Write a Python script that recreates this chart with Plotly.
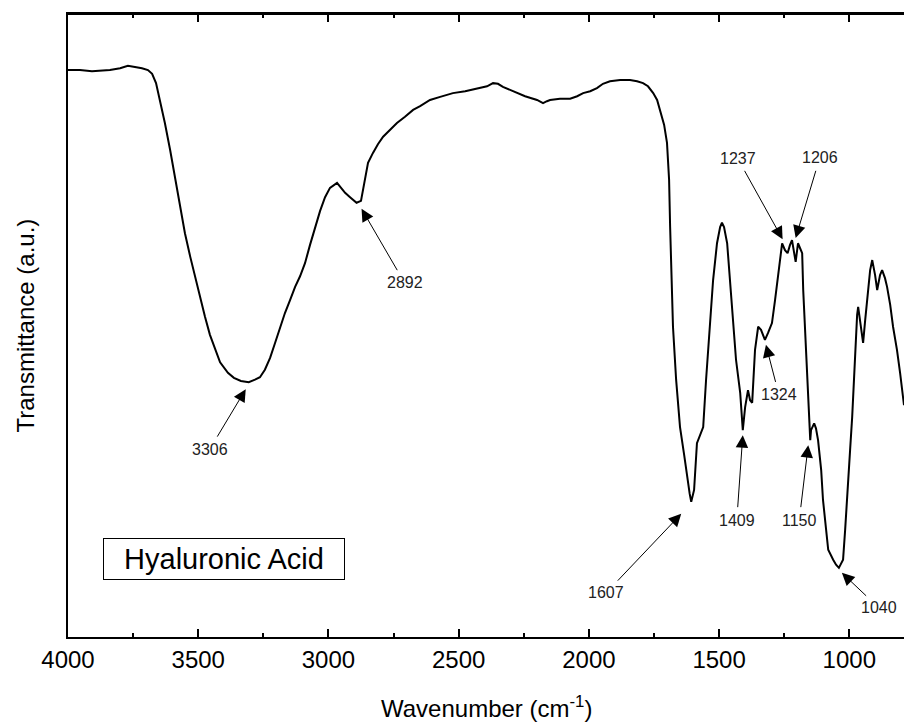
import numpy as np
import plotly.graph_objects as go

# FTIR spectrum of hyaluronic acid: wavenumber (cm-1) and transmittance (a.u.)
wavenumber = [
    4000, 3954, 3908, 3873, 3839, 3800, 3770, 3743, 3716, 3693, 3677, 3662, 3647, 3628,
    3608, 3589, 3570, 3551, 3531, 3512, 3493, 3474, 3455, 3435, 3416, 3386, 3363, 3336,
    3306, 3282, 3263, 3244, 3224, 3205, 3186, 3167, 3147, 3128, 3109, 3090, 3071, 3051,
    3032, 3013, 2994, 2967, 2952, 2936, 2917, 2902, 2892, 2875, 2867, 2859, 2848, 2829,
    2810, 2790, 2763, 2737, 2706, 2675, 2648, 2610, 2571, 2522, 2475, 2418, 2391, 2368,
    2349, 2330, 2303, 2276, 2245, 2199, 2176, 2161, 2149, 2111, 2072, 2045, 2022, 1995,
    1969, 1946, 1919, 1880, 1842, 1815, 1792, 1773, 1753, 1738, 1727, 1711, 1700, 1692,
    1688, 1681, 1677, 1665, 1650, 1634, 1623, 1613, 1607, 1596, 1585, 1573, 1561, 1550,
    1535, 1523, 1508, 1496, 1489, 1481, 1469, 1458, 1446, 1435, 1419, 1413, 1409, 1400,
    1389, 1381, 1373, 1362, 1350, 1339, 1324, 1312, 1297, 1285, 1277, 1266, 1258, 1247,
    1237, 1228, 1220, 1206, 1197, 1189, 1181, 1177, 1170, 1162, 1158, 1150, 1147, 1135,
    1128, 1120, 1108, 1101, 1089, 1081, 1062, 1051, 1040, 1024, 1016, 1008, 997, 989,
    978, 970, 966, 959, 951, 947, 939, 932, 920, 912, 901, 893, 882, 874,
    863, 855, 843, 832, 817, 805, 793, 790,
]
transmittance = [
    91.0, 91.0, 90.8, 90.9, 91.0, 91.3, 91.7, 91.5, 91.3, 91.0, 90.4, 88.9, 86.2, 82.5,
    78.2, 73.8, 69.3, 64.8, 61.1, 57.8, 54.4, 51.4, 48.5, 46.1, 44.1, 42.4, 41.6, 41.1,
    40.9, 41.3, 41.7, 42.9, 44.8, 47.2, 49.6, 52.0, 54.1, 56.2, 57.9, 60.0, 62.9, 65.8,
    68.4, 70.6, 72.1, 72.9, 72.1, 71.3, 70.6, 70.0, 69.7, 70.0, 71.7, 73.4, 76.1, 77.7,
    79.1, 80.3, 81.5, 82.5, 83.5, 84.6, 85.2, 86.2, 86.7, 87.3, 87.6, 88.1, 88.4, 88.9,
    88.8, 88.3, 87.8, 87.3, 86.8, 86.2, 85.7, 86.0, 86.2, 86.4, 86.4, 86.8, 87.3, 87.6,
    88.1, 88.8, 89.2, 89.4, 89.4, 89.2, 88.9, 88.4, 87.3, 86.2, 84.6, 82.2, 79.3, 73.4,
    65.8, 57.3, 49.8, 41.3, 33.7, 29.2, 25.7, 23.0, 21.7, 23.6, 31.1, 32.4, 33.7, 41.3,
    49.8, 57.3, 63.2, 65.8, 66.5, 65.8, 63.2, 57.3, 49.8, 44.5, 39.2, 34.8, 33.2, 36.9,
    39.6, 38.0, 37.6, 46.1, 49.8, 49.3, 47.7, 48.8, 50.4, 54.1, 56.8, 60.5, 63.2, 62.1,
    61.6, 62.9, 63.7, 60.2, 63.2, 62.4, 61.6, 55.7, 48.8, 42.9, 38.0, 31.6, 33.2, 34.3,
    33.5, 31.6, 26.8, 22.0, 17.2, 14.0, 12.4, 11.6, 11.1, 12.4, 17.2, 22.0, 30.0, 35.3,
    46.1, 51.7, 53.0, 50.9, 48.8, 47.2, 50.9, 54.1, 58.9, 60.5, 58.1, 55.7, 58.1, 58.9,
    57.6, 56.2, 53.3, 49.8, 46.1, 42.4, 38.0, 37.2,
]

# Assigned bands
band_labels = [3306, 2892, 1607, 1409, 1324, 1237, 1206, 1150, 1040]

# Label placement (pixels): arrow head shift from the curve, label offset from the head
label_style = {
    3306: dict(head=(-3, -7), label=(-36, 60)),
    2892: dict(head=(5, -6), label=(43, 74)),
    1607: dict(head=(-10, -12), label=(-75, 79)),
    1409: dict(head=(0, -5), label=(-6, 85)),
    1324: dict(head=(1, -5), label=(13, 50)),
    1237: dict(head=(-5, 14), label=(-45, -81)),
    1206: dict(head=(0, 24), label=(24, -80)),
    1150: dict(head=(-2, -5), label=(-9, 75)),
    1040: dict(head=(3, -5), label=(37, 35)),
}

FONT = "Arial, Liberation Sans, sans-serif"
X_RANGE = [4000, 790]

fig = go.Figure()
fig.add_trace(go.Scatter(
    x=wavenumber, y=transmittance, mode="lines",
    line=dict(color="black", width=2), showlegend=False, hoverinfo="skip",
))
# same spectrum on the minor-tick axis (invisible) so that axis gets drawn
fig.add_trace(go.Scatter(
    x=wavenumber, y=transmittance, mode="lines", xaxis="x2",
    line=dict(color="rgba(0,0,0,0)", width=0), showlegend=False, hoverinfo="skip",
))

w_sorted = np.array(wavenumber[::-1], dtype=float)
t_sorted = np.array(transmittance[::-1], dtype=float)

annotations = []
for band in band_labels:
    t_val = float(np.interp(band, w_sorted, t_sorted))
    st = label_style[band]
    # band label with its arrow pointing at the curve
    annotations.append(dict(
        x=band, y=t_val, xref="x", yref="y", text=str(band),
        font=dict(family=FONT, size=16, color="#222222"),
        showarrow=True, arrowhead=2, arrowsize=2.5, arrowwidth=1, arrowcolor="black",
        startstandoff=3,
        ax=st["label"][0], ay=st["label"][1],
        xshift=st["head"][0], yshift=st["head"][1],
    ))

# sample name box
annotations.append(dict(
    x=0.042, y=0.125, xref="paper", yref="paper", xanchor="left", yanchor="middle",
    text="Hyaluronic Acid", showarrow=False,
    font=dict(family=FONT, size=29, color="black"),
    bordercolor="black", borderwidth=1, borderpad=0, width=240, height=40,
    bgcolor="white",
))
# axis titles
annotations.append(dict(
    x=0.5, y=-0.1124, xref="paper", yref="paper", xanchor="center", yanchor="middle",
    text="Wavenumber (cm<sup>-1</sup>)", showarrow=False,
    font=dict(family=FONT, size=24, color="black"),
))
annotations.append(dict(
    x=-0.0514, y=0.5, xref="paper", yref="paper", xanchor="center", yanchor="middle",
    text="Transmittance (a.u.)", textangle=-90, showarrow=False,
    font=dict(family=FONT, size=24, color="black"),
))

fig.update_layout(
    width=904, height=722,
    margin=dict(l=68, r=0, t=14, b=85),
    plot_bgcolor="white", paper_bgcolor="white",
    annotations=annotations,
    # top edge of the frame
    shapes=[dict(type="line", xref="paper", yref="paper", x0=0, x1=1, y0=1, y1=1,
                 line=dict(color="black", width=2), layer="above")],
    # major ticks (bottom + mirrored on top) with labels
    xaxis=dict(
        range=X_RANGE, showgrid=False, zeroline=False, automargin=False,
        showline=True, linecolor="black", linewidth=2, mirror="allticks",
        ticks="inside", ticklen=8, tickwidth=2, tickcolor="black",
        tick0=0, dtick=500,
        tickfont=dict(family=FONT, size=24, color="black"),
    ),
    # short intermediate ticks every 250 cm-1, both edges
    xaxis2=dict(
        range=X_RANGE, overlaying="x", side="bottom", anchor="y", automargin=False,
        showgrid=False, zeroline=False, showticklabels=False,
        showline=True, linecolor="black", linewidth=2, mirror="allticks",
        ticks="inside", ticklen=4, tickwidth=2, tickcolor="black",
        tick0=0, dtick=250,
    ),
    yaxis=dict(
        range=[0, 100], showgrid=False, zeroline=False, automargin=False,
        showline=True, linecolor="black", linewidth=2, mirror=False,
        ticks="", showticklabels=False,
    ),
)

fig.write_html("out.html")
